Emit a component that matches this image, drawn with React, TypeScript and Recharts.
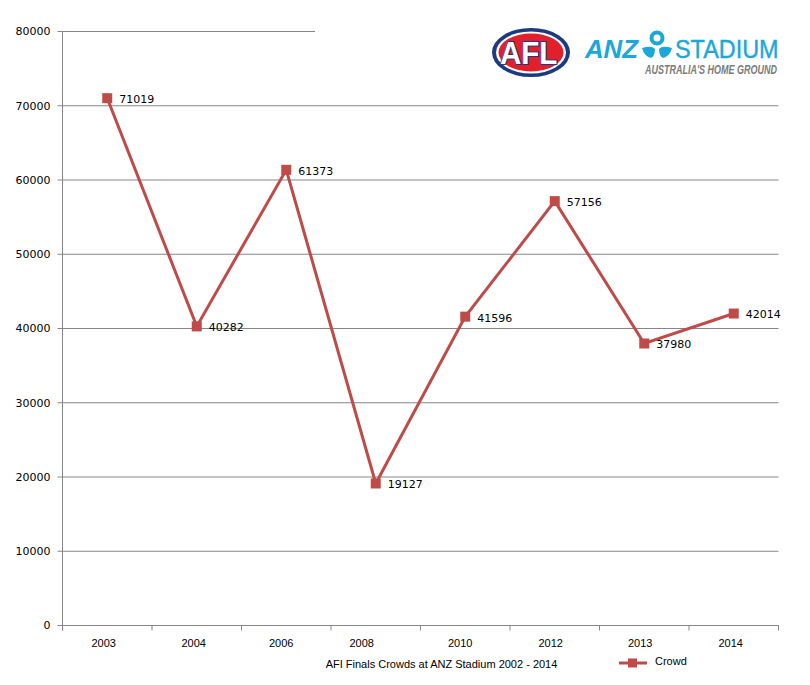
import { LineChart, Line, XAxis, YAxis, CartesianGrid, Legend } from "recharts";

const years = ["2003", "2004", "2006", "2008", "2010", "2012", "2013", "2014"];
const crowd = [71019, 40282, 61373, 19127, 41596, 57156, 37980, 42014];
const yTicks = [0, 10000, 20000, 30000, 40000, 50000, 60000, 70000, 80000];
// the labels sit a little left of the band centre in the original, 2008 most of all
const yearNudge = [-3.5, -3, -5, -14, -5, -4, -4, -3];

const chartData = years.map((year, i) => ({ year, Crowd: crowd[i] }));

const RED = "#BE4B48";
const GREY = "#868686";
const BAND = 89.5;
const TAHOMA = "'DejaVu Sans', sans-serif";
const ARIAL = "'Liberation Sans', Arial, sans-serif";

function YearTick({ x, y, index, payload }: any) {
  const left = x - BAND / 2;
  return (
    <g>
      <line x1={left} x2={left} y1={y} y2={y + 5} stroke={GREY} />
      {index === years.length - 1 && (
        <line x1={left + BAND} x2={left + BAND} y1={y} y2={y + 5} stroke={GREY} />
      )}
      <text
        x={x + yearNudge[index]}
        y={y + 21}
        textAnchor="middle"
        fontSize={11}
        fontFamily={ARIAL}
        fill="#000"
      >
        {payload.value}
      </text>
    </g>
  );
}

function SquareDot({ cx, cy, index }: any) {
  return <rect key={index} x={cx - 5} y={cy - 5} width={10} height={10} fill={RED} />;
}

function CrowdLegend() {
  return (
    <svg width={72} height={16} style={{ display: "block" }}>
      <line x1={0} x2={28} y1={8} y2={8} stroke={RED} strokeWidth={3} />
      <rect x={9} y={3.5} width={9} height={9} fill={RED} />
      <text x={36} y={10} fontSize={11} fontFamily={ARIAL} fill="#000">
        Crowd
      </text>
    </svg>
  );
}

function Logos() {
  return (
    <svg
      width={495}
      height={74}
      style={{ position: "absolute", left: 315, top: 20 }}
    >
      <rect width={495} height={74} fill="#fff" />
      <g transform="translate(-315 -20)">
        <ellipse cx={531} cy={52.5} rx={39} ry={24.5} fill="#1B3A80" />
        <ellipse cx={531} cy={52.5} rx={35} ry={21} fill="#fff" />
        <ellipse cx={531} cy={52.5} rx={32.5} ry={19} fill="#E2202C" />
        <text
          transform="translate(500 63.5) scale(0.92 1)"
          fontFamily={ARIAL}
          fontWeight="bold"
          fontSize={32}
          fill="#fff"
          stroke="#1B3A80"
          strokeWidth={2}
          paintOrder="stroke"
        >
          AFL
        </text>
        <text
          x={585}
          y={58}
          fontFamily={ARIAL}
          fontWeight="bold"
          fontStyle="italic"
          fontSize={26}
          fill="#1CA7DA"
          textLength={53}
          lengthAdjust="spacingAndGlyphs"
        >
          ANZ
        </text>
        <circle cx={657} cy={38} r={5.5} fill="none" stroke="#1CA7DA" strokeWidth={4} />
        <path d="M642 48 Q652 45 655 49 Q655 56 651 58 Q644 56 642 48Z" fill="#1CA7DA" />
        <path d="M672 48 Q662 45 659 49 Q659 56 663 58 Q670 56 672 48Z" fill="#1CA7DA" />
        <text
          transform="translate(675 58) scale(0.9 1)"
          fontFamily={ARIAL}
          fontSize={26}
          fill="#1CA7DA"
          stroke="#1CA7DA"
          strokeWidth={0.4}
        >
          STADIUM
        </text>
        <text
          transform="translate(645 74) scale(0.75 1)"
          fontFamily={ARIAL}
          fontWeight="bold"
          fontStyle="italic"
          fontSize={12}
          fill="#7A7A7A"
        >
          AUSTRALIA'S HOME GROUND
        </text>
      </g>
    </svg>
  );
}

export default function App() {
  return (
    <div
      style={{
        position: "absolute",
        left: 0,
        top: 0,
        width: 810,
        height: 685,
        background: "#fff",
        overflow: "hidden",
      }}
    >
      <LineChart
        width={810}
        height={685}
        data={chartData}
        margin={{ top: 31.5, right: 31.5, bottom: 0, left: 0 }}
      >
        <CartesianGrid vertical={false} stroke={GREY} />
        <XAxis
          dataKey="year"
          scale="band"
          height={59.5}
          stroke={GREY}
          tickLine={false}
          tickSize={0}
          tickMargin={0}
          interval={0}
          tick={<YearTick />}
          label={{
            value: "AFI Finals Crowds at ANZ Stadium 2002 - 2014",
            position: "insideBottom",
            offset: 17,
            dx: 21,
            fontSize: 11,
            fontFamily: ARIAL,
            fill: "#000",
          }}
        />
        <YAxis
          width={62.5}
          domain={[0, 80000]}
          ticks={yTicks}
          interval={0}
          stroke={GREY}
          tickSize={5}
          tickMargin={7}
          tick={{ fontSize: 11, fontFamily: TAHOMA, fill: "#000" }}
        />
        <Legend
          verticalAlign="middle"
          content={<CrowdLegend />}
          wrapperStyle={{ position: "absolute", left: 619, top: 655, width: 72, bottom: "auto" }}
        />
        <Line
          dataKey="Crowd"
          stroke={RED}
          strokeWidth={3}
          dot={<SquareDot />}
          activeDot={false}
          isAnimationActive={false}
          label={{
            position: "right",
            offset: 12,
            dy: 1,
            fontSize: 11,
            fontFamily: TAHOMA,
            fill: "#000",
          }}
        />
      </LineChart>
      <Logos />
    </div>
  );
}
